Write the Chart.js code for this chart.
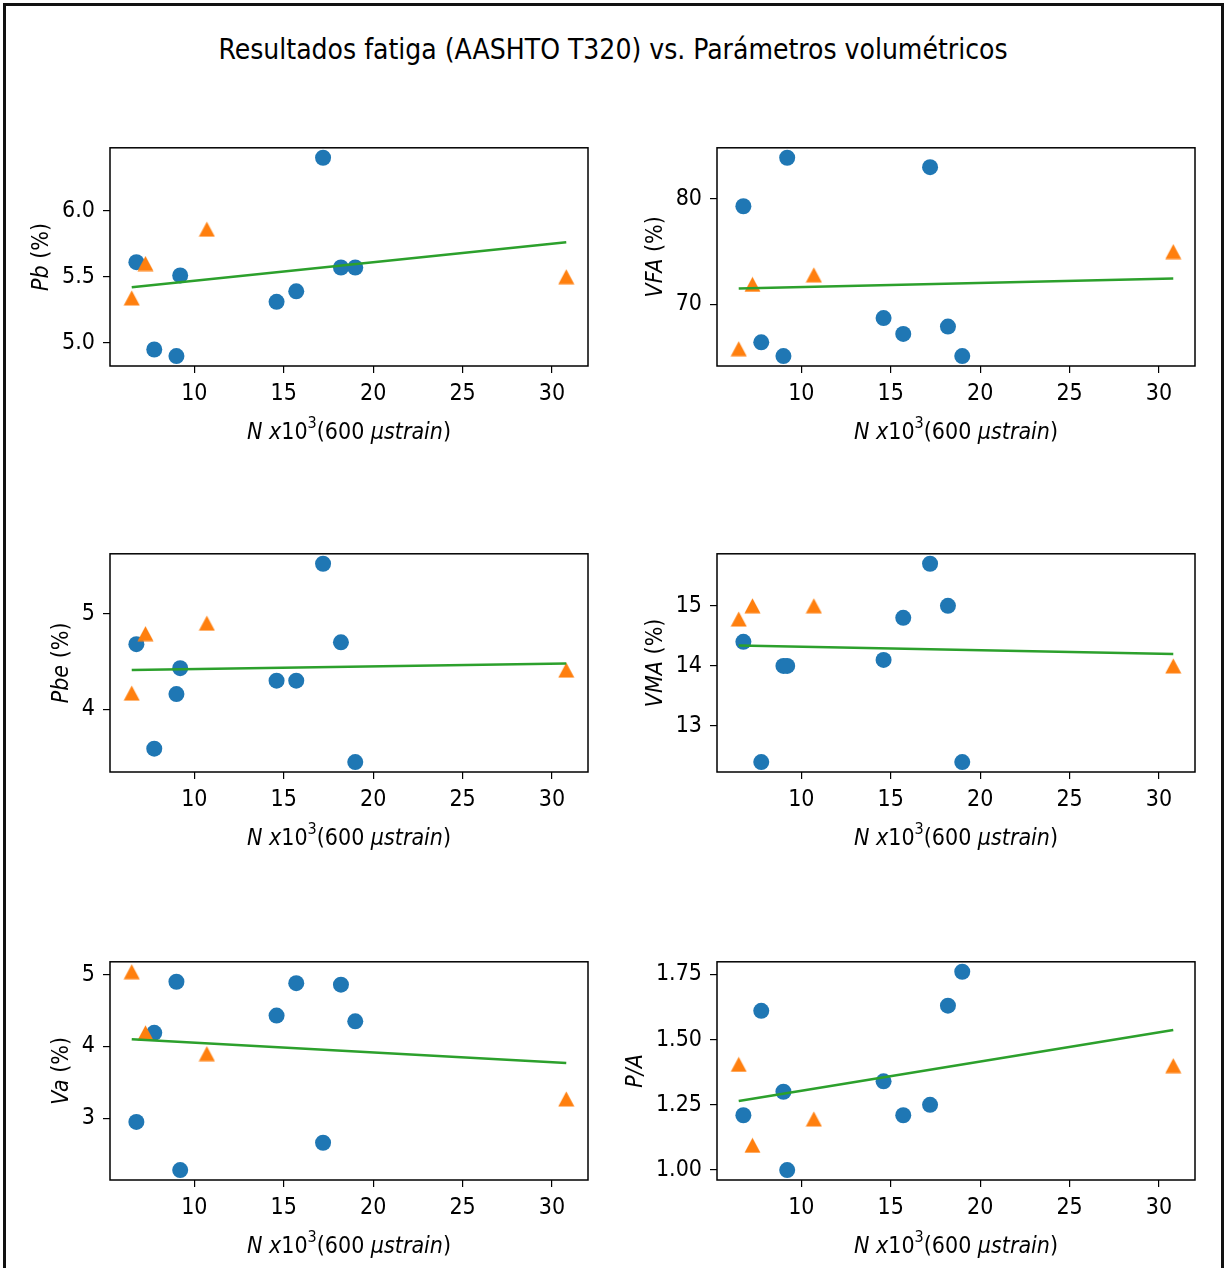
<!DOCTYPE html>
<html>

<head>
    <title>Resultados fatiga (AASHTO T320) vs. Parámetros volumétricos</title>
    <style>
        body { margin: 0; background: #fff; overflow: hidden; }
        #fig { position: relative; width: 1226px; height: 1268px; overflow: hidden; }
        #frame { position: absolute; left: 3px; top: 3px; width: 1215px; height: 1300px; border: 3px solid #111; }
        #suptitle {
            position: absolute; left: 0; width: 1226px; top: 33px; text-align: center;
            font-family: 'DejaVu Sans Condensed', 'DejaVu Sans'; font-size: 28px; color: #000;
        }
        .panel { position: absolute; }
    </style>
</head>

<body>
    <div id="fig">
        <div id="frame"></div>
        <div id="suptitle">Resultados fatiga (AASHTO T320) vs. Parámetros volumétricos</div>
    </div>

    <script src="https://cdn.jsdelivr.net/npm/chart.js"></script>
    <script type="text/javascript">
        // N x10^3 at 600 microstrain (same for every panel)
        const nBlue = [6.76, 7.76, 9.0, 9.21, 14.6, 15.7, 17.2, 18.2, 19.0];
        const nOrange = [6.5, 7.27, 10.7, 30.8];
        const nFit = [6.5, 30.8];
        const xTicks = [10, 15, 20, 25, 30];

        const pbBlue = [5.61, 4.95, 4.90, 5.51, 5.31, 5.39, 6.40, 5.57, 5.57];
        const pbOrange = [5.34, 5.60, 5.86, 5.50];
        const pbFit = [5.42, 5.76];
        const pbTicks = [5.0, 5.5, 6.0];

        const vfaBlue = [79.3, 66.4, 65.1, 83.9, 68.7, 67.2, 83.0, 67.9, 65.1];
        const vfaOrange = [65.8, 71.9, 72.8, 75.0];
        const vfaFit = [71.5, 72.45];
        const vfaTicks = [70, 80];

        const pbeBlue = [4.68, 3.59, 4.16, 4.43, 4.30, 4.30, 5.52, 4.70, 3.45];
        const pbeOrange = [4.17, 4.79, 4.90, 4.41];
        const pbeFit = [4.41, 4.48];
        const pbeTicks = [4, 5];

        const vmaBlue = [14.4, 12.4, 14.0, 14.0, 14.1, 14.8, 15.7, 15.0, 12.4];
        const vmaOrange = [14.78, 15.0, 15.0, 14.0];
        const vmaFit = [14.34, 14.2];
        const vmaTicks = [13, 14, 15];

        const vaBlue = [2.95, 4.19, 4.90, 2.28, 4.43, 4.88, 2.66, 4.86, 4.35];
        const vaOrange = [5.04, 4.19, 3.90, 3.27];
        const vaFit = [4.10, 3.77];
        const vaTicks = [3, 4, 5];

        const paBlue = [1.21, 1.61, 1.30, 1.00, 1.34, 1.21, 1.25, 1.63, 1.76];
        const paOrange = [1.405, 1.095, 1.196, 1.40];
        const paFit = [1.265, 1.537];
        const paTicks = [1.00, 1.25, 1.50, 1.75];

        const xLabel = [['N', 'i'], [' x', 'i'], ['10', 'n'], ['3', 'sup'], ['(600 ', 'n'], ['\u00b5strain', 'i'], [')', 'n']];

        const panels = [
            { blue: pbBlue, orange: pbOrange, fit: pbFit, ticks: pbTicks, dec: 1, label: [['Pb', 'i'], [' (%)', 'n']], col: 0, row: 0 },
            { blue: vfaBlue, orange: vfaOrange, fit: vfaFit, ticks: vfaTicks, dec: 0, label: [['VFA', 'i'], [' (%)', 'n']], col: 1, row: 0 },
            { blue: pbeBlue, orange: pbeOrange, fit: pbeFit, ticks: pbeTicks, dec: 0, label: [['Pbe', 'i'], [' (%)', 'n']], col: 0, row: 1 },
            { blue: vmaBlue, orange: vmaOrange, fit: vmaFit, ticks: vmaTicks, dec: 0, label: [['VMA', 'i'], [' (%)', 'n']], col: 1, row: 1 },
            { blue: vaBlue, orange: vaOrange, fit: vaFit, ticks: vaTicks, dec: 0, label: [['Va', 'i'], [' (%)', 'n']], col: 0, row: 2 },
            { blue: paBlue, orange: paOrange, fit: paFit, ticks: paTicks, dec: 2, label: [['P/A', 'i']], col: 1, row: 2 },
        ];

        const FONT = "'DejaVu Sans Condensed', 'DejaVu Sans'";
        const FS = 23;
        const rowTops = [146, 552, 960];
        const colLefts = [0, 607];
        const axH = 220;

        Chart.defaults.color = '#000';
        Chart.defaults.font.family = FONT;
        Chart.defaults.font.size = FS;

        // matplotlib style "^" marker
        const tri = document.createElement('canvas');
        tri.width = 17; tri.height = 16;
        (function () {
            const c = tri.getContext('2d');
            c.fillStyle = '#ff7f0e';
            c.beginPath();
            c.moveTo(8.5, 0.5);
            c.lineTo(16.5, 15.5);
            c.lineTo(0.5, 15.5);
            c.closePath();
            c.fill();
        })();

        function partFont(kind) {
            if (kind === 'i') return 'italic ' + FS + 'px ' + FONT;
            if (kind === 'sup') return Math.round(FS * 0.7) + 'px ' + FONT;
            return FS + 'px ' + FONT;
        }

        function drawRich(ctx, parts, x, y, vertical) {
            ctx.save();
            ctx.translate(x, y);
            if (vertical) ctx.rotate(-Math.PI / 2);
            let total = 0;
            parts.forEach(p => { ctx.font = partFont(p[1]); total += ctx.measureText(p[0]).width; });
            let cx = -total / 2;
            ctx.textBaseline = 'middle';
            ctx.textAlign = 'left';
            ctx.fillStyle = '#000';
            parts.forEach(p => {
                ctx.font = partFont(p[1]);
                ctx.fillText(p[0], cx, p[1] === 'sup' ? -FS * 0.38 : 0);
                cx += ctx.measureText(p[0]).width;
            });
            ctx.restore();
        }

        const framePlugin = {
            id: 'mplFrame',
            afterDraw(chart) {
                const ctx = chart.ctx;
                const a = chart.chartArea;
                ctx.save();
                ctx.strokeStyle = '#000';
                ctx.lineWidth = 1.5;
                ctx.strokeRect(a.left, a.top, a.right - a.left, a.bottom - a.top);
                ctx.restore();
                const p = chart.options.plugins.mplFrame;
                drawRich(ctx, xLabel, (a.left + a.right) / 2, a.bottom + 67, false);
                ctx.font = FS + 'px ' + FONT;
                let widest = 0;
                p.ticks.forEach(v => { widest = Math.max(widest, ctx.measureText(v.toFixed(p.dec)).width); });
                drawRich(ctx, p.label, a.left - 7 - 8 - widest - 20, (a.top + a.bottom) / 2, true);
            }
        };

        function limits(values) {
            const lo = Math.min(...values), hi = Math.max(...values);
            const m = (hi - lo) * 0.05;
            return [lo - m, hi + m];
        }

        const [xMin, xMax] = limits(nBlue.concat(nOrange, nFit));

        panels.forEach(p => {
            const box = document.createElement('div');
            box.className = 'panel';
            box.style.left = colLefts[p.col] + 'px';
            box.style.top = (rowTops[p.row] - 20) + 'px';
            const cv = document.createElement('canvas');
            cv.width = 600; cv.height = 340;
            box.appendChild(cv);
            document.getElementById('fig').appendChild(box);

            const [yMin, yMax] = limits(p.blue.concat(p.orange, p.fit));

            new Chart(cv, {
                type: 'scatter',
                data: {
                    datasets: [
                        {
                            data: nFit.map((x, i) => ({ x, y: p.fit[i] })),
                            showLine: true,
                            borderColor: '#2ca02c',
                            borderWidth: 2.5,
                            pointRadius: 0,
                        },
                        {
                            data: nOrange.map((x, i) => ({ x, y: p.orange[i] })),
                            pointStyle: tri,
                            pointRadius: 8,
                            backgroundColor: '#ff7f0e',
                            borderWidth: 0,
                        },
                        {
                            data: nBlue.map((x, i) => ({ x, y: p.blue[i] })),
                            pointStyle: 'circle',
                            pointRadius: 8,
                            backgroundColor: '#1f77b4',
                            borderWidth: 0,
                        },
                    ]
                },
                options: {
                    responsive: false,
                    animation: false,
                    clip: false,
                    layout: { padding: { top: 20, right: 12, left: 0, bottom: 0 } },
                    plugins: {
                        legend: { display: false },
                        tooltip: { enabled: false },
                        mplFrame: { ticks: p.ticks, dec: p.dec, label: p.label },
                    },
                    scales: {
                        x: {
                            type: 'linear',
                            min: xMin,
                            max: xMax,
                            afterBuildTicks: s => { s.ticks = xTicks.map(v => ({ value: v })); },
                            afterFit: s => { s.height = 340 - 20 - axH; },
                            grid: { drawOnChartArea: false, tickLength: 7, tickColor: '#000', lineWidth: 1.2 },
                            border: { display: false },
                            ticks: { padding: 7, maxRotation: 0, autoSkip: false, callback: v => String(v) },
                        },
                        y: {
                            type: 'linear',
                            min: yMin,
                            max: yMax,
                            afterBuildTicks: s => { s.ticks = p.ticks.map(v => ({ value: v })); },
                            afterFit: s => { s.width = 110; },
                            grid: { drawOnChartArea: false, tickLength: 7, tickColor: '#000', lineWidth: 1.2 },
                            border: { display: false },
                            ticks: { padding: 8, autoSkip: false, callback: v => v.toFixed(p.dec) },
                        }
                    }
                },
                plugins: [framePlugin]
            });
        });
    </script>
</body>

</html>
